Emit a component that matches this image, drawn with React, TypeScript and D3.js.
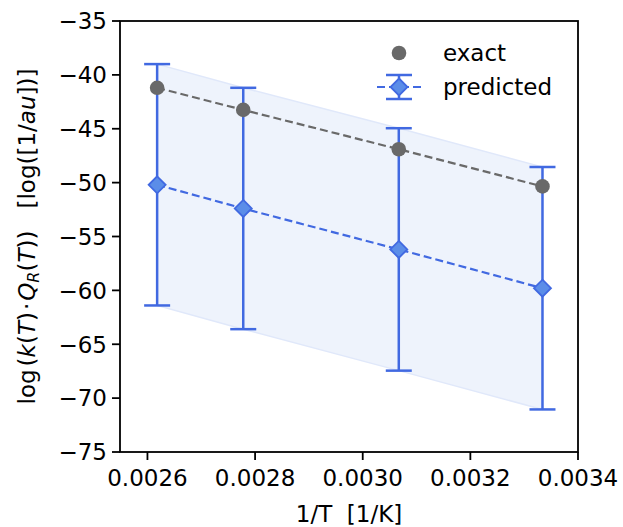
import React from 'react';
import * as d3 from 'd3';

// 1/T values [1/K]
const invT = [0.002618, 0.002778, 0.003067, 0.003334];
const exact = [-41.2, -43.25, -46.9, -50.35];
const predicted = [-50.2, -52.4, -56.2, -59.8];
const predErr = [11.2, 11.2, 11.25, 11.25];

const xTicks = [0.0026, 0.0028, 0.003, 0.0032, 0.0034];
const yTicks = [-35, -40, -45, -50, -55, -60, -65, -70, -75];

const W = 623;
const H = 527;
const margin = { top: 21, right: 45, bottom: 75, left: 120 };
const FONT = 'DejaVu Sans, sans-serif';
const FS = 23;
const BLUE = '#4169E1';
const GRAY = '#696969';

const fmtY = (v: number) => (v < 0 ? '\u2212' + Math.abs(v) : String(v));

export default function App() {
  const x = d3.scaleLinear().domain([0.002549, 0.0034]).range([margin.left, W - margin.right]);
  const y = d3.scaleLinear().domain([-75, -35]).range([H - margin.bottom, margin.top]);

  const pts = invT.map((t, i) => ({ t, e: exact[i], p: predicted[i], err: predErr[i] }));

  const band = d3
    .area<(typeof pts)[0]>()
    .x(d => x(d.t))
    .y0(d => y(d.p - d.err))
    .y1(d => y(d.p + d.err));
  const lineE = d3.line<(typeof pts)[0]>().x(d => x(d.t)).y(d => y(d.e));
  const lineP = d3.line<(typeof pts)[0]>().x(d => x(d.t)).y(d => y(d.p));

  const diamond = (cx: number, cy: number, r: number) =>
    `M${cx},${cy - r}L${cx + r},${cy}L${cx},${cy + r}L${cx - r},${cy}Z`;

  const cap = 13;
  const x0 = margin.left;
  const x1 = W - margin.right;
  const y0 = margin.top;
  const y1 = H - margin.bottom;

  // legend
  const lgX = 399;
  const lgY1 = 53;
  const lgY2 = 87;

  return (
    <svg width={W} height={H} style={{ position: 'absolute', left: 0, top: 0, background: '#fff' }}
      fontFamily={FONT}>
      <path d={band(pts) ?? ''} fill="#eef3fc" stroke="#e0e8fa" strokeWidth={1.5} />
      <path d={lineE(pts) ?? ''} fill="none" stroke={GRAY} strokeWidth={2.2} strokeDasharray="8,4" />
      <path d={lineP(pts) ?? ''} fill="none" stroke={BLUE} strokeWidth={2.2} strokeDasharray="8,4" />
      {pts.map((d, i) => (
        <g key={i}>
          <line x1={x(d.t)} x2={x(d.t)} y1={y(d.p + d.err)} y2={y(d.p - d.err)} stroke={BLUE} strokeWidth={2.5} />
          <line x1={x(d.t) - cap} x2={x(d.t) + cap} y1={y(d.p + d.err)} y2={y(d.p + d.err)} stroke={BLUE} strokeWidth={2.5} />
          <line x1={x(d.t) - cap} x2={x(d.t) + cap} y1={y(d.p - d.err)} y2={y(d.p - d.err)} stroke={BLUE} strokeWidth={2.5} />
          <path d={diamond(x(d.t), y(d.p), 8.5)} fill="#5b8de8" stroke={BLUE} strokeWidth={1.8} />
          <circle cx={x(d.t)} cy={y(d.e)} r={7.3} fill={GRAY} />
        </g>
      ))}

      {/* frame */}
      <rect x={x0} y={y0} width={x1 - x0} height={y1 - y0} fill="none" stroke="#000" strokeWidth={1.8} />

      {/* y axis */}
      {yTicks.map(v => (
        <g key={v}>
          <line x1={x0 - 8} x2={x0} y1={y(v)} y2={y(v)} stroke="#000" strokeWidth={1.8} />
          <text x={x0 - 13} y={y(v)} dy="0.36em" textAnchor="end" fontSize={FS}>{fmtY(v)}</text>
        </g>
      ))}
      {/* x axis */}
      {xTicks.map(v => (
        <g key={v}>
          <line x1={x(v)} x2={x(v)} y1={y1} y2={y1 + 8} stroke="#000" strokeWidth={1.8} />
          <text x={x(v)} y={y1 + 34} textAnchor="middle" fontSize={FS}>{v.toFixed(4)}</text>
        </g>
      ))}

      <text x={(x0 + x1) / 2} y={H - 5} textAnchor="middle" fontSize={FS}>1/T{'\u00a0\u00a0'}[1/K]</text>

      <text transform={`translate(35,${(y0 + y1) / 2}) rotate(-90)`} textAnchor="middle" fontSize={FS}>
        <tspan>log</tspan>
        <tspan dx={3}>(</tspan>
        <tspan fontStyle="italic">k</tspan>
        <tspan>(</tspan>
        <tspan fontStyle="italic">T</tspan>
        <tspan>)</tspan>
        <tspan dx={2}>{'\u00b7'}</tspan>
        <tspan dx={2} fontStyle="italic">Q</tspan>
        <tspan fontStyle="italic" fontSize={16} dy={4}>R</tspan>
        <tspan dy={-4}>(</tspan>
        <tspan fontStyle="italic">T</tspan>
        <tspan>))</tspan>
        <tspan dx={22}>[log([1/</tspan>
        <tspan fontStyle="italic">au</tspan>
        <tspan>])]</tspan>
      </text>

      {/* legend */}
      <circle cx={lgX} cy={lgY1} r={7.3} fill={GRAY} />
      <text x={443} y={lgY1} dy="0.36em" fontSize={FS}>exact</text>
      <line x1={lgX - 24} x2={lgX + 24} y1={lgY2} y2={lgY2} stroke={BLUE} strokeWidth={2.2} strokeDasharray="8,4" strokeDashoffset={-2} />
      <line x1={lgX} x2={lgX} y1={lgY2 - 12} y2={lgY2 + 12} stroke={BLUE} strokeWidth={2.5} />
      <line x1={lgX - cap} x2={lgX + cap} y1={lgY2 - 12} y2={lgY2 - 12} stroke={BLUE} strokeWidth={2.5} />
      <line x1={lgX - cap} x2={lgX + cap} y1={lgY2 + 12} y2={lgY2 + 12} stroke={BLUE} strokeWidth={2.5} />
      <path d={diamond(lgX, lgY2, 8.5)} fill="#5b8de8" stroke={BLUE} strokeWidth={1.8} />
      <text x={443} y={lgY2} dy="0.36em" fontSize={FS}>predicted</text>
    </svg>
  );
}
